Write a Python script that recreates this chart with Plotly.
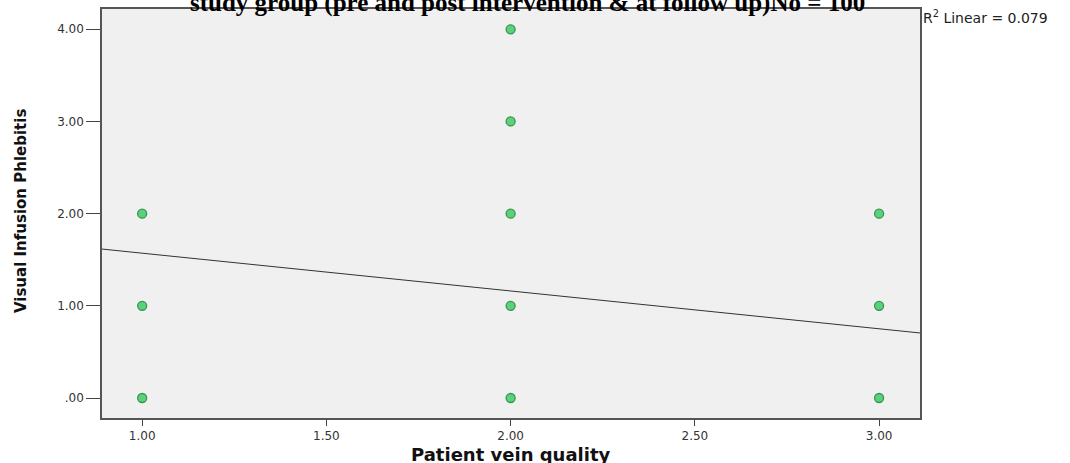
import plotly.graph_objects as go

# Data
vein_quality = [1, 1, 1, 2, 2, 2, 2, 2, 3, 3, 3]
phlebitis = [0, 1, 2, 0, 1, 2, 3, 4, 0, 1, 2]
fit_intercept = 1.981
fit_slope = -0.410
r2_text = "R<sup>2</sup> Linear = 0.079"
x_ticks = [1.0, 1.5, 2.0, 2.5, 3.0]
x_ticklabels = ["1.00", "1.50", "2.00", "2.50", "3.00"]
y_ticks = [0, 1, 2, 3, 4]
y_ticklabels = [".00", "1.00", "2.00", "3.00", "4.00"]
x_range = [0.891, 3.111]
y_range = [-0.217, 4.22]

fig = go.Figure()
fit_x = x_range
fit_y = [fit_intercept + fit_slope * v for v in fit_x]
fig.add_trace(go.Scatter(x=fit_x, y=fit_y, mode="lines",
                         line=dict(color="#333333", width=1), hoverinfo="skip"))
fig.add_trace(go.Scatter(x=vein_quality, y=phlebitis, mode="markers",
                         marker=dict(size=9, color="#5fcf7c",
                                     line=dict(color="#2f9a50", width=1.3))))

fig.update_layout(
    width=1070, height=463,
    margin=dict(l=102, r=150, t=9, b=45, autoexpand=False),
    paper_bgcolor="white", plot_bgcolor="#f0f0f0",
    showlegend=False,
    font=dict(family="DejaVu Sans, Arial, sans-serif", size=12, color="#333333"),
)
fig.update_xaxes(range=x_range, tickvals=x_ticks, ticktext=x_ticklabels,
                 showgrid=False, zeroline=False, ticks="outside", ticklen=6,
                 tickcolor="#444444", showline=True, linecolor="#555555",
                 linewidth=1.5, mirror=True)
fig.update_yaxes(range=y_range, tickvals=y_ticks, ticktext=y_ticklabels,
                 showgrid=False, zeroline=False, ticks="outside", ticklen=14,
                 tickcolor="#444444", showline=True, linecolor="#555555",
                 linewidth=1.5, mirror=True)

# axis titles
fig.add_annotation(text="<b>Patient vein quality</b>", xref="paper", yref="paper",
                   x=0.5, y=-0.089, xanchor="center", yanchor="middle", showarrow=False,
                   font=dict(size=18, color="#111111", family="DejaVu Sans, Arial, sans-serif"))
fig.add_annotation(text="<b>Visual Infusion Phlebitis</b>", xref="paper", yref="paper",
                   x=-0.099, y=0.506, xanchor="center", yanchor="middle", showarrow=False,
                   textangle=-90,
                   font=dict(size=15, color="#111111",
                             family="Liberation Sans Narrow, DejaVu Sans, sans-serif"))

fig.add_annotation(text=r2_text, xref="paper", yref="paper", x=1.0, y=0.981,
                   xanchor="left", yanchor="middle", showarrow=False, xshift=1,
                   font=dict(size=14, color="#222222"))
fig.add_annotation(text="<b>study group (pre and post intervention &amp; at follow up)No = 100</b>",
                   xref="paper", yref="paper", x=0.52, y=1.014,
                   xanchor="center", yanchor="middle", showarrow=False,
                   font=dict(size=25, color="#000000",
                             family="Liberation Serif, Times New Roman, serif"))

fig.write_html("out.html", config={"displayModeBar": False},
               post_script="document.body.style.margin='0';")
